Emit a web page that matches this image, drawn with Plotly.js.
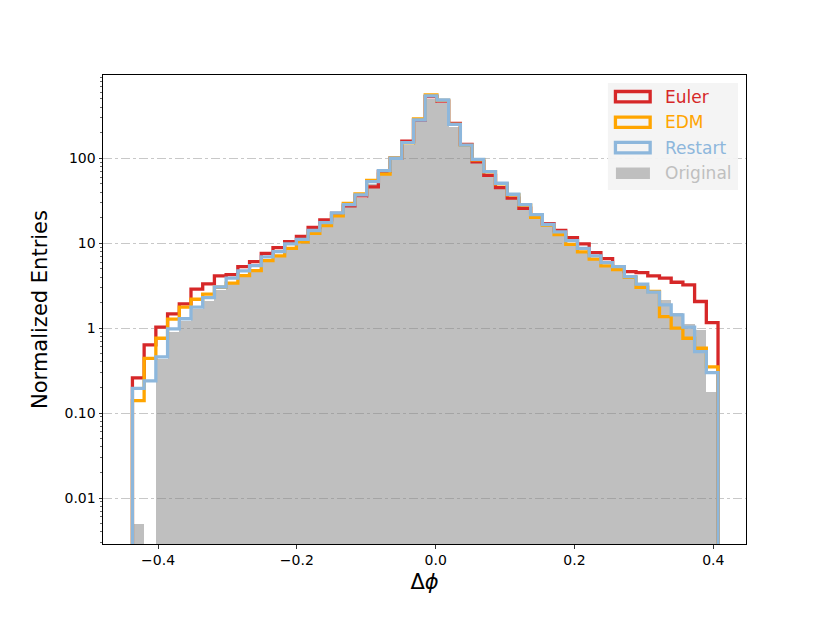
<!DOCTYPE html>
<html>
<head>
<meta charset="utf-8">
<script src="https://cdn.plot.ly/plotly-3.0.1.min.js"></script>
<style>body{margin:0;background:#fff}</style>
</head>
<body>
<div id="hist" style="width:830px;height:623px"></div>
<script>
// binning do histograma (50 bins)
const BIN_LO = -0.4369;
const BIN_HI = 0.4068;
const N_BINS = 50;

// entradas normalizadas por bin
const EULER = [0.26, 0.635, 1.03, 1.47, 1.93, 2.88, 3.32, 4.12, 4.27, 5.3,
     6.08, 7.6, 8.87, 10.4, 12.0, 15.3, 18.8, 22.5, 27.5, 36,
     46, 70, 100, 159, 280, 530, 470, 258, 146, 91,
     63, 45, 34, 25.8, 21, 17, 14.1, 11.6, 9.8, 7.76,
     6.6, 5.1, 4.63, 4.51, 4.12, 3.87, 3.47, 3.23, 2.06, 1.16];
const EDM = [0.14, 0.44, 0.76, 1.28, 1.77, 2.19, 2.51, 3.03, 3.38, 4.16,
     4.76, 6.24, 7.1, 8.7, 10.4, 13.1, 16.1, 21.0, 29.5, 38,
     55, 65, 101, 152, 290, 555, 480, 250, 142, 96,
     69, 50, 37, 28, 20.2, 16.2, 12.6, 9.7, 7.9, 6.5,
     5.4, 4.9, 3.95, 3.03, 2.7, 1.37, 1.0, 0.76, 0.58, 0.35];
const RESTART = [0.195, 0.24, 0.46, 0.98, 1.29, 1.77, 2.29, 3.05, 3.87, 4.72,
     5.45, 6.9, 7.96, 9.8, 11.1, 14.1, 17.5, 22.8, 28.5, 37,
     53, 71.5, 100, 153, 282, 541, 485, 251, 143, 97,
     69.6, 50.8, 37.7, 28.5, 21.7, 16.6, 13.6, 10.7, 8.7, 7.1,
     5.9, 5.3, 4.05, 3.29, 2.65, 1.88, 1.43, 1.03, 0.53, 0.30];
const ORIGINAL = [0.005, 0, 0.43, 0.91, 1.2, 1.7, 2.1, 2.85, 3.3, 4.1,
     4.7, 6.1, 7.0, 8.5, 10.2, 13.0, 15.9, 20.5, 26.5, 34,
     50, 65, 95, 145, 265, 500, 450, 235, 135, 89,
     63, 46, 34, 26, 19.5, 15.5, 12.4, 9.6, 7.9, 6.5,
     5.5, 5.0, 4.0, 3.3, 2.6, 2.15, 1.5, 1.12, 0.95, 0.177];

const Y_TICKS = [0.01, 0.1, 1, 10, 100];
const Y_LABELS = ["0.01", "0.10", "1", "10", "100"];
const X_TICKS = [-0.4, -0.2, 0.0, 0.2, 0.4];

const NAMES = ["Euler", "EDM", "Restart", "Original"];
const COLORS = ["#d62728", "#ffa500", "#8db7dc", "#bfbfbf"];

const BIN_W = (BIN_HI - BIN_LO) / N_BINS;
const EDGES = [];
for (let i = 0; i <= N_BINS; i++) EDGES.push(BIN_LO + i * BIN_W);
const CENTERS = EDGES.slice(0, -1).map(e => e + BIN_W / 2);

// ticks menores do eixo log (2..9 de cada década)
const MINOR = [];
for (let d = -3; d <= 2; d++)
     for (let k = 2; k <= 9; k++) MINOR.push(k * Math.pow(10, d));

// contorno tipo histtype='step'
function stepTrace(vals, color, name) {
     return {
          x: [EDGES[0]].concat(EDGES, [EDGES[N_BINS]]),
          y: [1e-6].concat(vals, [vals[vals.length - 1], 1e-6]),
          mode: "lines",
          line: {shape: "hv", color: color, width: 3.3},
          name: name,
          hoverinfo: "skip"
     };
}

const DATA = [
     {
          x: CENTERS, y: ORIGINAL, type: "bar", width: BIN_W,
          marker: {color: "rgba(128,128,128,0.5)", line: {width: 0}},
          name: "Original"
     },
     stepTrace(EULER, COLORS[0], "Euler"),
     stepTrace(EDM, COLORS[1], "EDM"),
     stepTrace(RESTART, COLORS[2], "Restart")
];

// área do gráfico em pixels
const L = 103.3, R = 746, T = 75, B = 544.3;
const px = x => (x - L) / (R - L);
const py = y => (B - y) / (B - T);

// legenda desenhada à mão (retângulos largos como no matplotlib)
const shapes = [{
     type: "rect", xref: "paper", yref: "paper",
     x0: px(608), x1: px(738), y0: py(190), y1: py(83),
     fillcolor: "rgba(243,243,243,0.95)", line: {width: 0}
}];
const annotations = [];
const ROW_Y = [96.7, 122.3, 147.7, 173.3];
NAMES.forEach((n, i) => {
     const filled = n === "Original";
     shapes.push({
          type: "rect", xref: "paper", yref: "paper",
          x0: px(filled ? 616 : 615.5), x1: px(filled ? 650 : 650.2),
          y0: py(ROW_Y[i] + (filled ? 5.7 : 5.2)), y1: py(ROW_Y[i] - (filled ? 5.7 : 5.2)),
          fillcolor: filled ? "#bfbfbf" : "rgba(0,0,0,0)",
          line: {width: filled ? 0 : 3.3, color: COLORS[i]}
     });
     annotations.push({
          xref: "paper", yref: "paper", x: px(663), y: py(ROW_Y[i]),
          xanchor: "left", yanchor: "middle", showarrow: false,
          text: n, font: {size: 17, color: COLORS[i]}
     });
});

const LAYOUT = {
     width: 830, height: 623,
     margin: {l: L, r: 830 - R, t: T, b: 623 - B},
     paper_bgcolor: "#fff", plot_bgcolor: "#fff",
     font: {family: "DejaVu Sans", color: "#000"},
     showlegend: false,
     bargap: 0,
     xaxis: {
          range: [-0.4793, 0.4471],
          tickvals: X_TICKS, tickformat: ".1f",
          ticks: "outside", ticklen: 3.5, tickwidth: 0.8, tickcolor: "#000",
          tickfont: {size: 14},
          showgrid: false, zeroline: false,
          showline: true, mirror: true, linecolor: "#000", linewidth: 1,
          title: {text: "Δ<i>ϕ</i>", font: {size: 21}, standoff: 7}
     },
     yaxis: {
          type: "log",
          range: [-2.541, 2.98],
          tickmode: "array", tickvals: Y_TICKS, ticktext: Y_LABELS,
          ticks: "outside", ticklen: 3.5, tickwidth: 0.8, tickcolor: "#000",
          tickfont: {size: 14},
          minor: {tickmode: "array", tickvals: MINOR, ticks: "outside", ticklen: 2, tickwidth: 0.6, tickcolor: "#000", showgrid: false},
          showgrid: true, gridcolor: "#c8c8c8", gridwidth: 1, griddash: "dashdot",
          zeroline: false,
          showline: true, mirror: true, linecolor: "#000", linewidth: 1,
          title: {text: "Normalized Entries", font: {size: 21}, standoff: 11}
     },
     shapes: shapes,
     annotations: annotations
};

Plotly.newPlot("hist", DATA, LAYOUT, {staticPlot: true});
</script>
</body>
</html>
